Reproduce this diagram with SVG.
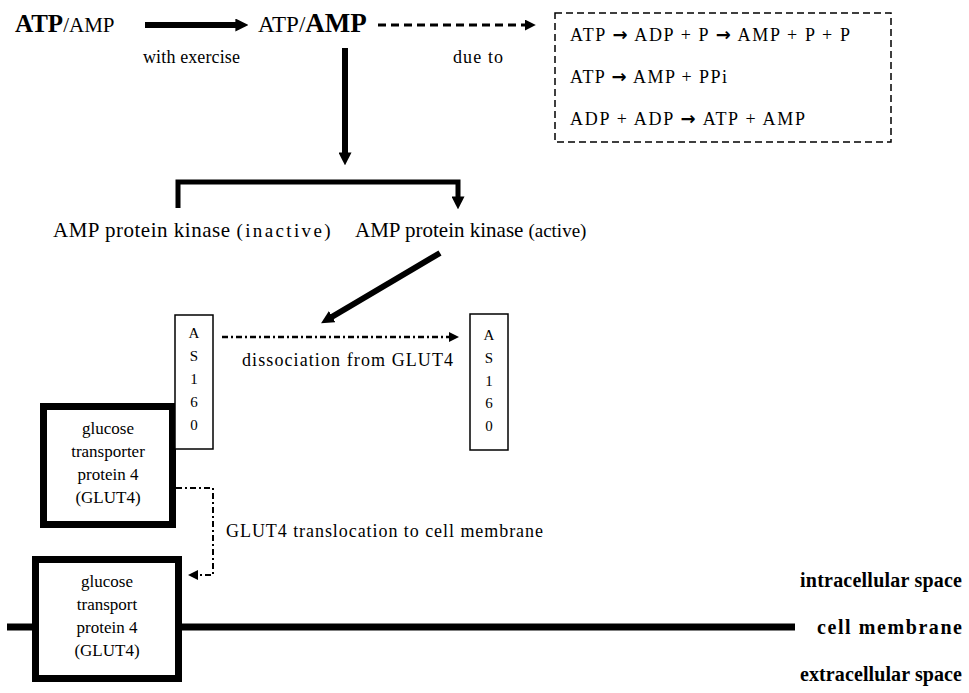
<svg xmlns="http://www.w3.org/2000/svg" width="969" height="693" viewBox="0 0 969 693">
<defs>
<style>
text,tspan{font-family:"Liberation Serif","Times New Roman",serif}
text{fill:#000}
.b{font-weight:bold}
.s18{font-size:18px}
.s17{font-size:17px}
tspan.ar{font-family:"DejaVu Sans",sans-serif;font-weight:bold;font-size:18px}
.lab{font-size:20px;font-weight:bold}
.box{fill:#fff;stroke:#000}
.thick{fill:none;stroke:#000;stroke-width:6}
</style>
<marker id="big" viewBox="0 0 10 10" refX="2" refY="5" markerWidth="13" markerHeight="13" markerUnits="userSpaceOnUse" orient="auto"><path d="M0,0L10,5L0,10z" fill="#000"/></marker>
<marker id="med" viewBox="0 0 10 10" refX="2" refY="5" markerWidth="11" markerHeight="11" markerUnits="userSpaceOnUse" orient="auto"><path d="M0,0L10,5L0,10z" fill="#000"/></marker>
<marker id="sm" viewBox="0 0 10 10" refX="2" refY="5" markerWidth="10" markerHeight="10" markerUnits="userSpaceOnUse" orient="auto"><path d="M0,0L10,5L0,10z" fill="#000"/></marker>
</defs>
<rect width="969" height="693" fill="#fff"/>

<g id="connectors">
<path class="thick" d="M145,25H238" marker-end="url(#big)"/>
<path d="M378,25H527" fill="none" stroke="#000" stroke-width="3" stroke-dasharray="8 5" marker-end="url(#med)"/>
<path class="thick" d="M345,48V155" marker-end="url(#big)"/>
<path d="M178,208V182H458V199" fill="none" stroke="#000" stroke-width="5" marker-end="url(#big)"/>
<path class="thick" d="M440,253L330,318" marker-end="url(#big)"/>
<path d="M222,337H451" fill="none" stroke="#000" stroke-width="2.5" stroke-dasharray="6 3 2 3" marker-end="url(#sm)"/>
<path d="M176,488H213V575H196" fill="none" stroke="#000" stroke-width="2" stroke-dasharray="6 3 2 3" marker-end="url(#sm)"/>
<path d="M7,627H34M180,627H795" fill="none" stroke="#000" stroke-width="7"/>
</g>

<g id="atp-amp-1">
<text x="15" y="32"><tspan class="b" font-size="25">ATP</tspan><tspan font-size="21">/AMP</tspan></text>
</g>
<g id="atp-amp-2">
<text x="258" y="32"><tspan font-size="23">ATP/</tspan><tspan class="b" font-size="27">AMP</tspan></text>
</g>
<g id="label-exercise"><text class="s18" x="143" y="63" textLength="97">with exercise</text></g>
<g id="label-dueto"><text class="s18" x="453" y="63" textLength="50">due to</text></g>

<g id="reactions">
<rect x="555" y="13" width="336" height="129" fill="none" stroke="#000" stroke-width="1.5" stroke-dasharray="7 4"/>
<text class="s18" x="570" y="41" textLength="280">ATP <tspan class="ar">→</tspan> ADP + P <tspan class="ar">→</tspan> AMP + P + P</text>
<text class="s18" x="570" y="83" textLength="157">ATP <tspan class="ar">→</tspan> AMP + PPi</text>
<text class="s18" x="570" y="125" textLength="235">ADP + ADP <tspan class="ar">→</tspan> ATP + AMP</text>
</g>

<g id="ampk-inactive">
<text x="53" y="237"><tspan font-size="21" textLength="177">AMP protein kinase</tspan><tspan font-size="19" dx="6" textLength="94">(inactive)</tspan></text>
</g>
<g id="ampk-active">
<text x="355" y="237"><tspan font-size="21">AMP protein kinase</tspan><tspan font-size="19" dx="5">(active)</tspan></text>
</g>

<g id="glut4-top">
<rect class="box" x="43.5" y="406.5" width="129" height="118" stroke-width="7"/>
<text class="s17" text-anchor="middle"><tspan x="108" y="434">glucose</tspan><tspan x="108" y="457">transporter</tspan><tspan x="108" y="480">protein 4</tspan><tspan x="108" y="503">(GLUT4)</tspan></text>
</g>

<g id="as160-left">
<rect class="box" x="175" y="315" width="38" height="134" stroke-width="1.5"/>
<text font-size="15" text-anchor="middle"><tspan x="194" y="338">A</tspan><tspan x="194" y="361">S</tspan><tspan x="194" y="384">1</tspan><tspan x="194" y="407">6</tspan><tspan x="194" y="430">0</tspan></text>
</g>

<g id="as160-right">
<rect class="box" x="470" y="314" width="38" height="136" stroke-width="1.5"/>
<text font-size="15" text-anchor="middle"><tspan x="489" y="340">A</tspan><tspan x="489" y="363">S</tspan><tspan x="489" y="386">1</tspan><tspan x="489" y="408">6</tspan><tspan x="489" y="431">0</tspan></text>
</g>

<g id="label-dissociation"><text class="s18" x="242" y="366" textLength="211">dissociation from GLUT4</text></g>
<g id="label-translocation"><text class="s18" x="226" y="537" textLength="317">GLUT4 translocation to cell membrane</text></g>

<g id="glut4-membrane">
<rect class="box" x="35.5" y="559.5" width="143" height="119" stroke-width="7"/>
<text class="s17" text-anchor="middle"><tspan x="107" y="587">glucose</tspan><tspan x="107" y="610">transport</tspan><tspan x="107" y="633">protein 4</tspan><tspan x="107" y="656">(GLUT4)</tspan></text>
</g>

<g id="region-labels">
<text class="lab" x="962" y="587" text-anchor="end" textLength="162">intracellular space</text>
<text class="lab" x="962" y="634" text-anchor="end" textLength="145">cell membrane</text>
<text class="lab" x="962" y="681" text-anchor="end" textLength="162">extracellular space</text>
</g>
</svg>
